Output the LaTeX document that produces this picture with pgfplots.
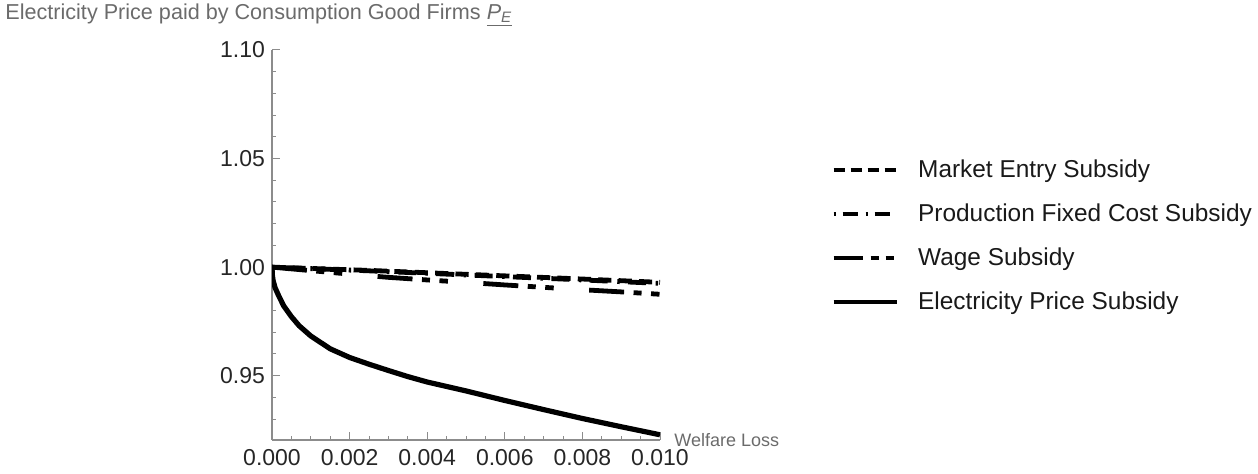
\documentclass[border=0pt]{standalone}
\usepackage{fontspec}
\setmainfont{Liberation Sans}
\usepackage{pgfplots}
\pgfplotsset{compat=1.18}
\definecolor{axgray}{gray}{0.55}
\definecolor{lblgray}{gray}{0.42}
\begin{document}
\begin{tikzpicture}
\path[use as bounding box] (-136pt,-17pt) rectangle (493pt,220pt);
\begin{axis}[
  at={(0pt,0pt)}, anchor=south west,
  scale only axis, width=194pt, height=195pt,
  xmin=0, xmax=0.01, ymin=0.9204, ymax=1.10,
  axis x line*=bottom, axis y line*=left,
  axis line style={axgray, line width=0.6pt},
  xtick={0,0.002,0.004,0.006,0.008,0.010},
  minor xtick={0.0005,0.001,0.0015,0.0025,0.003,0.0035,0.0045,0.005,0.0055,0.0065,0.007,0.0075,0.0085,0.009,0.0095},
  ytick={0.95,1.00,1.05,1.10},
  minor ytick={0.93,0.94,0.96,0.97,0.98,0.99,1.01,1.02,1.03,1.04,1.06,1.07,1.08,1.09},
  tick align=inside,
  major tick length=4pt, minor tick length=2pt,
  every tick/.style={axgray, line width=0.5pt},
  scaled x ticks=false, scaled y ticks=false,
  x tick label style={/pgf/number format/fixed, /pgf/number format/fixed zerofill, /pgf/number format/precision=3, /pgf/number format/assume math mode=true, yshift=-1pt},
  y tick label style={/pgf/number format/fixed, /pgf/number format/fixed zerofill, /pgf/number format/precision=2, /pgf/number format/assume math mode=true},
  tick label style={font=\fontsize{11.5}{13}\selectfont, text=black!85},
  xlabel={Welfare Loss},
  xlabel style={at={(rel axis cs:1,0)}, anchor=west, xshift=7pt, font=\fontsize{9}{11}\selectfont, text=lblgray, inner sep=0pt},
  legend style={at={(rel axis cs:1.4433,0.7487)}, anchor=north west, draw=none, fill=none,
    inner sep=0pt, outer sep=0pt, row sep=0pt, column sep=10pt,
    font=\fontsize{12.2}{14}\selectfont, text=black!90,
    nodes={inner sep=0pt, minimum height=22pt}},
  legend cell align=left,
  legend image code/.code={\draw[#1] (0pt,0pt) -- (31.5pt,0pt);},
]
% Market Entry Subsidy
\addplot[black, line width=2.4pt, dash pattern=on 6.6pt off 3.6pt, forget plot] coordinates {
(0,1.0000) (0.0025,0.9985) (0.005,0.9967) (0.0075,0.9949) (0.010,0.9930)};
% Production Fixed Cost Subsidy
\addplot[black, line width=2.4pt, dash pattern=on 1.2pt off 4.2pt on 9pt off 4.8pt, forget plot] coordinates {
(0,1.0000) (0.0025,0.9983) (0.005,0.9964) (0.0075,0.9945) (0.010,0.9925)};
% Wage Subsidy
\addplot[black, line width=2.4pt, dash pattern=on 17.5pt off 4.75pt on 4pt off 4.75pt on 4.25pt off 17.75pt, forget plot] coordinates {
(0,1.0000) (0.001,0.9984) (0.002,0.9968) (0.003,0.9953) (0.004,0.9941) (0.005,0.9930)
(0.006,0.9918) (0.007,0.9907) (0.008,0.9896) (0.009,0.9886) (0.010,0.9875)};
% Electricity Price Subsidy
\addplot[black, line width=2.6pt, forget plot] coordinates {
(0,1.0000) (0.00001,0.9962) (0.00003,0.9937) (0.00008,0.9905) (0.00016,0.9873)
(0.0003,0.9822) (0.0005,0.9772) (0.0007,0.9730) (0.001,0.9683) (0.0015,0.9624)
(0.002,0.9584) (0.0025,0.9553) (0.003,0.9524) (0.0035,0.9496) (0.004,0.9471)
(0.005,0.9430) (0.006,0.9386) (0.007,0.9344) (0.008,0.9303) (0.009,0.9265) (0.010,0.9228)};
\addlegendimage{black, line width=1.6pt, dash pattern=on 5.5pt off 3pt}
\addlegendentry{Market Entry Subsidy}
\addlegendimage{black, line width=1.6pt, dash pattern=on 1pt off 3.5pt on 7.5pt off 4pt}
\addlegendentry{Production Fixed Cost Subsidy}
\addlegendimage{black, line width=1.6pt, dash pattern=on 14.5pt off 4pt on 4pt off 3.5pt on 4pt off 15pt}
\addlegendentry{Wage Subsidy}
\addlegendimage{black, line width=1.6pt}
\addlegendentry{Electricity Price Subsidy}
\end{axis}
\node[anchor=west, text=lblgray, font=\fontsize{10.8}{13}\selectfont, inner sep=0pt] at (-133.5pt,212.5pt)
  {Electricity Price paid by Consumption Good Firms \underline{\textit{P}\textsubscript{\textit{E}}}};
\end{tikzpicture}
\end{document}
